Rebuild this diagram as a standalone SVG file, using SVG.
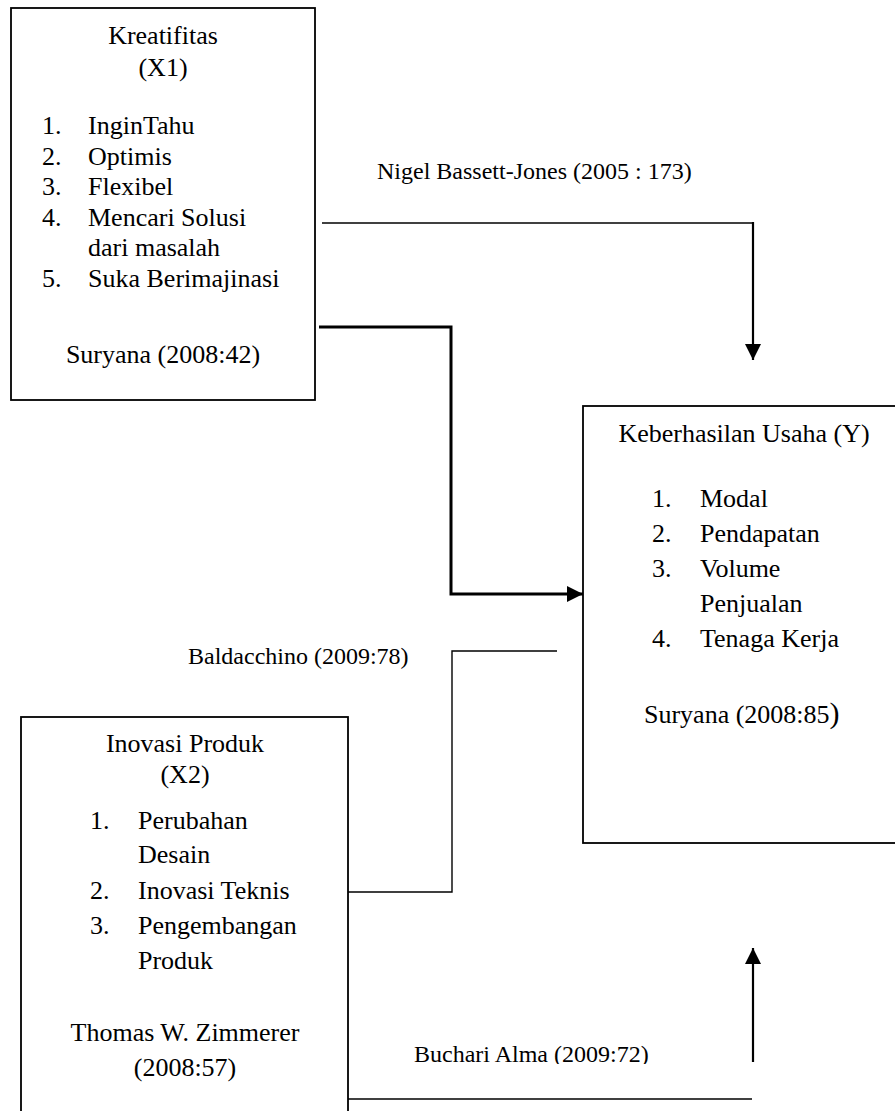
<svg xmlns="http://www.w3.org/2000/svg" width="895" height="1111" viewBox="0 0 895 1111" font-family="'Liberation Serif', 'Times New Roman', serif">
<style>
.box{fill:#fff;stroke:#000;stroke-width:1.8}
.t{font-family:'Liberation Serif','Times New Roman',serif;font-size:26px;fill:#000}
.c{text-anchor:middle}
.lbl{font-family:'Liberation Serif','Times New Roman',serif;font-size:24px;fill:#000}
.thin{fill:none;stroke:#000;stroke-width:1.4}
.mid{fill:none;stroke:#000;stroke-width:2.2}
.bold{fill:none;stroke:#000;stroke-width:3}
</style>
<defs>
<marker id="ah" markerUnits="userSpaceOnUse" markerWidth="16" markerHeight="16" viewBox="0 0 16 16" refX="16" refY="8" orient="auto">
<path d="M0,0 L16,8 L0,16 Z" fill="#000"/>
</marker>
<clipPath id="clipB"><rect x="380" y="1020" width="300" height="44"/></clipPath>
</defs>
<rect width="895" height="1111" fill="#fff"/>

<g id="connectors">
<path class="thin" d="M322,223 H753"/>
<path class="mid" d="M753,222 V360" marker-end="url(#ah)"/>
<path class="bold" d="M319,327 H451 V594 H583" marker-end="url(#ah)"/>
<path class="thin" d="M557,651 H452 V892 H348"/>
<path class="thin" d="M348,1099 H752"/>
<path class="mid" d="M753,1062 V948" marker-end="url(#ah)"/>
<text class="lbl" x="377" y="179">Nigel Bassett-Jones (2005 : 173)</text>
<text class="lbl" x="188" y="664">Baldacchino (2009:78)</text>
<text class="lbl" x="414" y="1062" clip-path="url(#clipB)">Buchari Alma (2009:72)</text>
</g>

<g id="kreatifitas">
<rect class="box" x="11" y="8" width="304" height="392"/>
<text class="t c" x="163" y="44">Kreatifitas</text>
<text class="t c" x="163" y="76">(X1)</text>
<text class="t" x="42" y="134">1.</text><text class="t" x="88" y="134">InginTahu</text>
<text class="t" x="42" y="165">2.</text><text class="t" x="88" y="165">Optimis</text>
<text class="t" x="42" y="195">3.</text><text class="t" x="88" y="195">Flexibel</text>
<text class="t" x="42" y="226">4.</text><text class="t" x="88" y="226">Mencari Solusi</text>
<text class="t" x="88" y="256">dari masalah</text>
<text class="t" x="42" y="287">5.</text><text class="t" x="88" y="287">Suka Berimajinasi</text>
<text class="t c" x="163" y="363">Suryana (2008:42)</text>
</g>

<g id="keberhasilan">
<rect class="box" x="583" y="406" width="330" height="437"/>
<text class="t c" x="744" y="442">Keberhasilan Usaha (Y)</text>
<text class="t" x="652" y="507">1.</text><text class="t" x="700" y="507">Modal</text>
<text class="t" x="652" y="542">2.</text><text class="t" x="700" y="542">Pendapatan</text>
<text class="t" x="652" y="577">3.</text><text class="t" x="700" y="577">Volume</text>
<text class="t" x="700" y="612">Penjualan</text>
<text class="t" x="652" y="647">4.</text><text class="t" x="700" y="647">Tenaga Kerja</text>
<text class="t" x="644" y="723">Suryana (2008:85<tspan font-size="30">)</tspan></text>
</g>

<g id="inovasi">
<rect class="box" x="21" y="717" width="327" height="410"/>
<text class="t c" x="185" y="752">Inovasi Produk</text>
<text class="t c" x="185" y="783">(X2)</text>
<text class="t" x="90" y="829">1.</text><text class="t" x="138" y="829">Perubahan</text>
<text class="t" x="138" y="863">Desain</text>
<text class="t" x="90" y="899">2.</text><text class="t" x="138" y="899">Inovasi Teknis</text>
<text class="t" x="90" y="934">3.</text><text class="t" x="138" y="934">Pengembangan</text>
<text class="t" x="138" y="969">Produk</text>
<text class="t c" x="185" y="1041">Thomas W. Zimmerer</text>
<text class="t c" x="185" y="1076">(2008:57)</text>
</g>
</svg>
